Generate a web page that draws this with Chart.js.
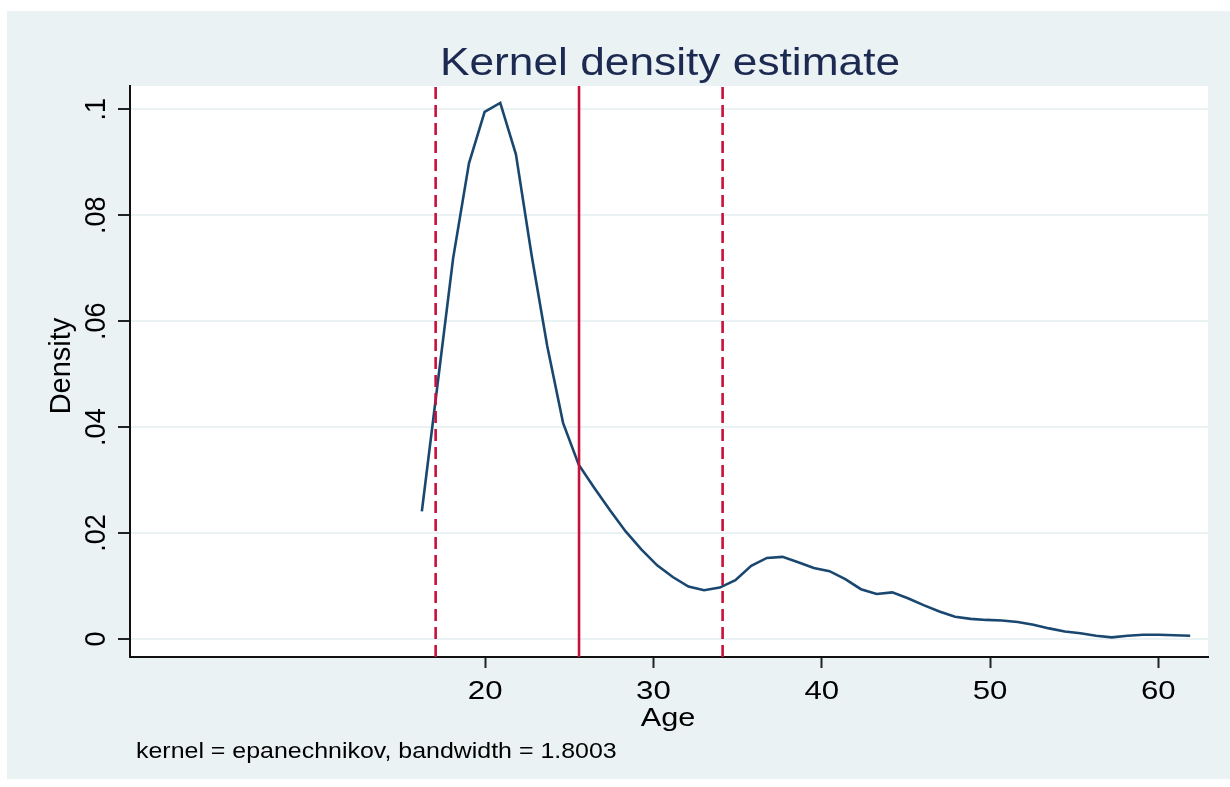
<!DOCTYPE html>
<html>
<head>
<meta charset="utf-8">
<title>Kernel density estimate</title>
<script src="https://cdn.jsdelivr.net/npm/chart.js@4/dist/chart.umd.min.js"></script>
<style>
    html, body { margin: 0; padding: 0; background: #fff; }
    #wrap { width: 1230px; height: 787px; }
</style>
</head>
<body>
<div id="wrap"><canvas id="kdensChart" width="1230" height="787"></canvas></div>
<script>
// --- data ---
const AGE = [
    16.24, 17.17, 18.10, 19.04, 19.97, 20.90, 21.83, 22.76, 23.69, 24.63,
    25.56, 26.49, 27.42, 28.35, 29.28, 30.22, 31.15, 32.08, 33.01, 33.94,
    34.87, 35.81, 36.74, 37.67, 38.60, 39.53, 40.46, 41.40, 42.33, 43.26,
    44.19, 45.12, 46.05, 46.99, 47.92, 48.85, 49.78, 50.71, 51.64, 52.58,
    53.51, 54.44, 55.37, 56.30, 57.23, 58.17, 59.10, 60.03, 60.96, 61.89
];
const DENSITY = [
    0.0241, 0.0480, 0.0719, 0.0898, 0.0995, 0.1012, 0.0915, 0.0725, 0.0553, 0.0408,
    0.0329, 0.0285, 0.0243, 0.0203, 0.0169, 0.0139, 0.0117, 0.0099, 0.0092, 0.0097,
    0.0111, 0.0138, 0.0153, 0.0155, 0.0145, 0.0134, 0.0128, 0.0113, 0.0094, 0.0085,
    0.0088, 0.0077, 0.0064, 0.0052, 0.0042, 0.0038, 0.0036, 0.0035, 0.0032, 0.0027,
    0.0020, 0.0014, 0.0011, 0.0006, 0.0003, 0.0006, 0.0008, 0.0008, 0.0007, 0.0006
];
// mean - sd, mean, mean + sd
const X_LINES = [17.06, 25.58, 34.11];
const X_LINE_DASHED = [true, false, true];

const X_TICKS = [20, 30, 40, 50, 60];
const X_TICK_LABELS = ['20', '30', '40', '50', '60'];
const Y_TICKS = [0, 0.02, 0.04, 0.06, 0.08, 0.1];
const Y_TICK_LABELS = ['0', '.02', '.04', '.06', '.08', '.1'];

const X_MIN = -1.1, X_MAX = 62.95;
const Y_MIN = -0.0034, Y_MAX = 0.1044;

const TITLE = 'Kernel density estimate';
const X_TITLE = 'Age';
const Y_TITLE = 'Density';
const NOTE = 'kernel = epanechnikov, bandwidth = 1.8003';

const FONT = '"Liberation Sans", Arial, sans-serif';
const BG = '#eaf2f3';
const NAVY = '#1a476f';
const RED = '#c8103c';

// Stata text comes out a bit wide, so stretch it horizontally
function drawText(ctx, text, x, y, size, color, opts = {}) {
    ctx.save();
    ctx.translate(x, y);
    ctx.scale(opts.sx || 1, 1);
    if (opts.rotate) ctx.rotate(-Math.PI / 2);
    ctx.font = size + 'px ' + FONT;
    ctx.fillStyle = color;
    ctx.textAlign = opts.align || 'center';
    ctx.textBaseline = 'alphabetic';
    ctx.fillText(text, 0, 0);
    ctx.restore();
}

const stataBackground = {
    id: 'stataBackground',
    beforeDraw(chart) {
        const ctx = chart.ctx;
        const a = chart.chartArea;
        ctx.save();
        ctx.fillStyle = '#fff';
        ctx.fillRect(0, 0, chart.width, chart.height);
        ctx.fillStyle = BG;
        ctx.fillRect(7, 11, chart.width - 7, 768);
        ctx.fillStyle = '#fff';
        ctx.fillRect(a.left, a.top, a.right - a.left, a.bottom - a.top);
        ctx.restore();
    }
};

const stataText = {
    id: 'stataText',
    afterDraw(chart) {
        const ctx = chart.ctx;
        const xs = chart.scales.x;
        const ys = chart.scales.y;

        drawText(ctx, TITLE, 670, 74.5, 38.5, '#1c2a52', { sx: 1.15 });

        X_TICKS.forEach((v, i) => {
            drawText(ctx, X_TICK_LABELS[i], xs.getPixelForValue(v), 699, 26, '#000', { sx: 1.2 });
        });
        drawText(ctx, X_TITLE, 668, 726, 26, '#000', { sx: 1.18 });

        Y_TICKS.forEach((v, i) => {
            drawText(ctx, Y_TICK_LABELS[i], 105, ys.getPixelForValue(v), 27, '#000', { rotate: true, sx: 1.08 });
        });
        drawText(ctx, Y_TITLE, 70, 366, 29, '#000', { rotate: true });

        drawText(ctx, NOTE, 136, 758, 21.5, '#000', { align: 'left', sx: 1.16 });
    }
};

const datasets = [{
    label: 'kdensity Age',
    data: AGE.map((a, i) => ({ x: a, y: DENSITY[i] })),
    showLine: true,
    borderColor: NAVY,
    borderWidth: 2.6,
    pointRadius: 0,
    tension: 0,
    order: 2
}];

X_LINES.forEach((xv, i) => {
    datasets.push({
        label: 'xline ' + xv,
        data: [{ x: xv, y: Y_MIN }, { x: xv, y: Y_MAX }],
        showLine: true,
        borderColor: RED,
        borderWidth: 2.6,
        borderDash: X_LINE_DASHED[i] ? [12, 6] : [],
        pointRadius: 0,
        order: 1
    });
});

new Chart(document.getElementById('kdensChart'), {
    type: 'scatter',
    data: { datasets },
    options: {
        responsive: false,
        animation: false,
        devicePixelRatio: 1,
        layout: { padding: { left: 0, top: 86, right: 22, bottom: 0 } },
        plugins: {
            legend: { display: false },
            title: { display: false },
            tooltip: { enabled: false }
        },
        scales: {
            x: {
                type: 'linear',
                min: X_MIN,
                max: X_MAX,
                afterBuildTicks: s => { s.ticks = X_TICKS.map(v => ({ value: v })); },
                afterFit: s => { s.height = 130; },
                ticks: { display: false },
                grid: {
                    drawOnChartArea: false,
                    drawTicks: true,
                    tickLength: 11,
                    tickColor: '#222',
                    tickWidth: 2
                },
                border: { display: true, color: '#111', width: 2 }
            },
            y: {
                type: 'linear',
                min: Y_MIN,
                max: Y_MAX,
                afterBuildTicks: s => { s.ticks = Y_TICKS.map(v => ({ value: v })); },
                afterFit: s => { s.width = 130; },
                ticks: { display: false },
                grid: {
                    color: BG,
                    lineWidth: 2,
                    drawTicks: true,
                    tickLength: 12,
                    tickColor: '#222',
                    tickWidth: 2
                },
                border: { display: true, color: '#111', width: 2 }
            }
        }
    },
    plugins: [stataBackground, stataText]
});
</script>
</body>
</html>
